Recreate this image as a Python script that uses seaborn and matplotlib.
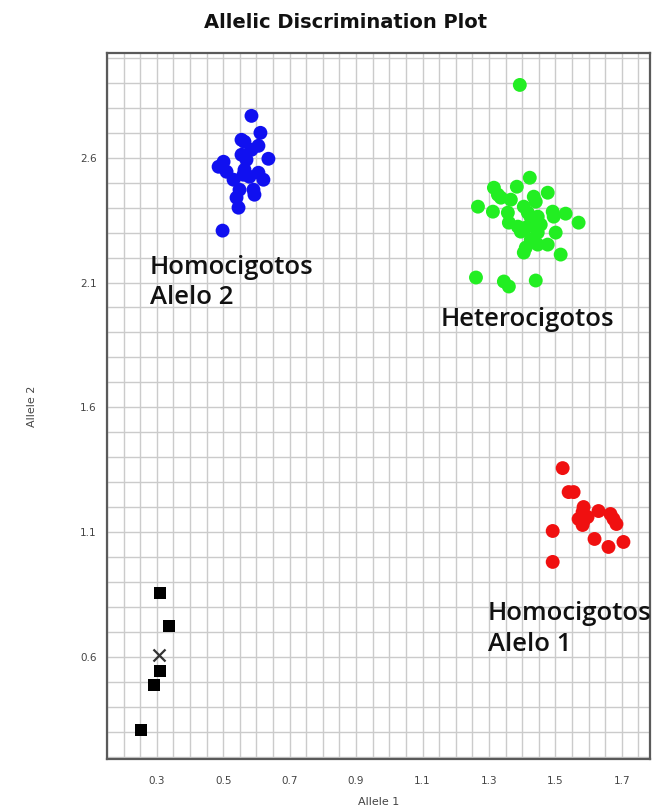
import numpy as np
import pandas as pd
import matplotlib
matplotlib.use("Agg")
import matplotlib.pyplot as plt
import seaborn as sns

# ---- data ----
blue_x = [0.585, 0.612, 0.555, 0.564, 0.606, 0.636, 0.570, 0.501, 0.486, 0.510,
          0.564, 0.561, 0.579, 0.606, 0.621, 0.549, 0.540, 0.591, 0.594, 0.546,
          0.498, 0.555, 0.585, 0.531]
blue_y = [2.768, 2.700, 2.672, 2.664, 2.648, 2.596, 2.592, 2.584, 2.564, 2.544,
          2.552, 2.532, 2.524, 2.540, 2.512, 2.472, 2.440, 2.472, 2.452, 2.400,
          2.308, 2.612, 2.632, 2.512]

green_x = [1.393, 1.423, 1.384, 1.315, 1.327, 1.336, 1.366, 1.435, 1.441, 1.477,
           1.267, 1.312, 1.405, 1.357, 1.360, 1.417, 1.426, 1.447, 1.492, 1.495,
           1.531, 1.570, 1.387, 1.396, 1.411, 1.435, 1.447, 1.456, 1.501, 1.426,
           1.411, 1.405, 1.447, 1.477, 1.516, 1.261, 1.345, 1.360, 1.441]
green_y = [2.892, 2.520, 2.484, 2.480, 2.452, 2.440, 2.432, 2.444, 2.424, 2.460,
           2.404, 2.384, 2.404, 2.380, 2.340, 2.380, 2.360, 2.364, 2.384, 2.364,
           2.376, 2.340, 2.324, 2.304, 2.320, 2.324, 2.300, 2.332, 2.300, 2.272,
           2.240, 2.220, 2.252, 2.252, 2.212, 2.120, 2.104, 2.084, 2.108]

red_x = [1.522, 1.540, 1.555, 1.585, 1.582, 1.630, 1.666, 1.675, 1.684, 1.570,
         1.585, 1.597, 1.582, 1.492, 1.618, 1.660, 1.705, 1.492]
red_y = [1.356, 1.260, 1.260, 1.200, 1.180, 1.184, 1.172, 1.152, 1.132, 1.152,
         1.144, 1.160, 1.128, 1.104, 1.072, 1.040, 1.060, 0.980]

ntc_x = [0.309, 0.336, 0.309, 0.291, 0.252]
ntc_y = [0.856, 0.724, 0.544, 0.488, 0.308]

und_x = [0.306]
und_y = [0.608]

groups = ["Allele 2", "Both", "Allele 1", "NTC", "Undetermined"]
group_colors = ["#1010f0", "#22ee22", "#f01010", "#000000", "#333333"]

x_ticks = [0.3, 0.5, 0.7, 0.9, 1.1, 1.3, 1.5, 1.7]
y_ticks = [0.6, 1.1, 1.6, 2.1, 2.6]

labels_text = ["Homocigotos\nAlelo 2", "Heterocigotos", "Homocigotos\nAlelo 1"]
labels_x = [0.279, 1.155, 1.297]
labels_y = [1.99, 1.90, 0.60]

# ---- build frame ----
df = pd.concat([
    pd.DataFrame({"Allele 1": blue_x, "Allele 2": blue_y, "call": groups[0]}),
    pd.DataFrame({"Allele 1": green_x, "Allele 2": green_y, "call": groups[1]}),
    pd.DataFrame({"Allele 1": red_x, "Allele 2": red_y, "call": groups[2]}),
    pd.DataFrame({"Allele 1": ntc_x, "Allele 2": ntc_y, "call": groups[3]}),
], ignore_index=True)

sns.set_style("white")
plt.rcParams["font.family"] = ["DejaVu Sans"]

fig = plt.figure(figsize=(6.61, 8.07), dpi=100)
ax = fig.add_axes([107/661, 1 - 759/807, (650 - 107)/661, (759 - 53)/807])

pal = dict(zip(groups[:4], group_colors[:4]))
dots = df[df["call"] != "NTC"]
sns.scatterplot(data=dots, x="Allele 1", y="Allele 2", hue="call", palette=pal,
                s=100, linewidth=0, ax=ax, legend=False, zorder=3)
sq = df[df["call"] == "NTC"]
sns.scatterplot(data=sq, x="Allele 1", y="Allele 2", color="#000000", marker="s",
                s=70, linewidth=0, ax=ax, legend=False, zorder=3)
ax.scatter(und_x, und_y, marker="x", s=75, color="#333333", linewidths=1.6, zorder=3)

ax.set_xlim(0.156, 1.785)
ax.set_ylim(0.19, 3.02)

ax.set_xticks(x_ticks)
ax.set_yticks(y_ticks)
ax.set_xticks(np.arange(0.15, 1.80, 0.05), minor=True)
ax.set_yticks(np.arange(0.2, 3.02, 0.1), minor=True)
ax.grid(True, which="both", color="#cbcbcb", linewidth=1.0, zorder=0)
ax.set_axisbelow(True)

ax.tick_params(axis="both", which="both", direction="out", length=4, width=0.8,
               color="#bbbbbb", labelsize=7.5, labelcolor="#444444")
ax.tick_params(axis="x", pad=8)
for sp in ax.spines.values():
    sp.set_color("#5a5a5a")
    sp.set_linewidth(1.6)
    sp.set_visible(True)

ax.set_xlabel("Allele 1", fontsize=8, color="#444444", labelpad=8)
ax.set_ylabel("Allele 2", fontsize=8, color="#444444", labelpad=31)

for t, tx, ty in zip(labels_text, labels_x, labels_y):
    ax.text(tx, ty, t, fontsize=18.5, family=["Open Sans", "DejaVu Sans"],
            fontweight="semibold", color="#111111", linespacing=1.28,
            ha="left", va="bottom", zorder=4)

fig.text(346/661, 1 - 22/807, "Allelic Discrimination Plot", fontsize=14,
         fontweight="bold", ha="center", va="center", color="#111111")

fig.savefig("out.png", dpi=100)
